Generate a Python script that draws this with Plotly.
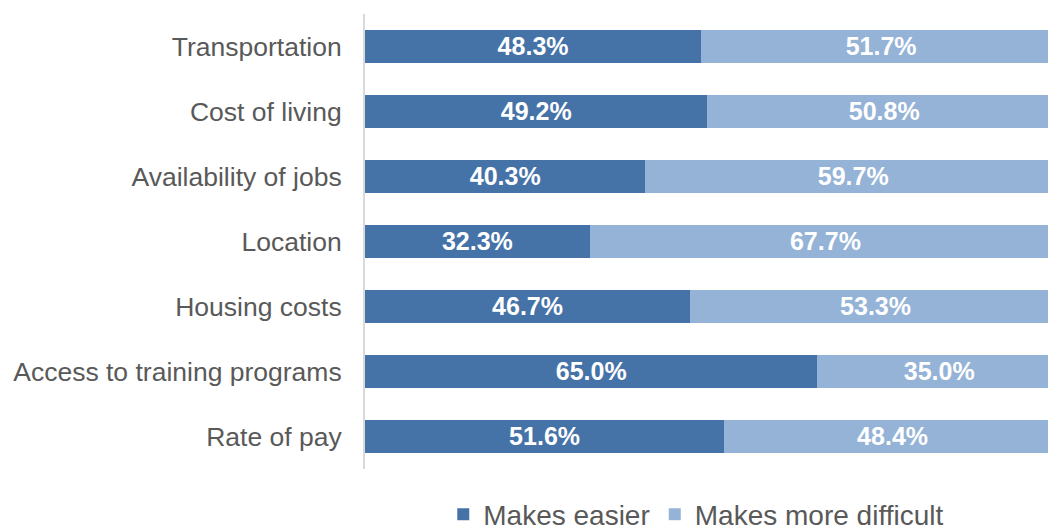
import plotly.graph_objects as go

categories = [
    "Transportation",
    "Cost of living",
    "Availability of jobs",
    "Location",
    "Housing costs",
    "Access to training programs",
    "Rate of pay",
]
makes_easier = [48.3, 49.2, 40.3, 32.3, 46.7, 65.0, 51.6]
makes_more_difficult = [51.7, 50.8, 59.7, 67.7, 53.3, 35.0, 48.4]

DARK = "#4673A7"
LIGHT = "#95B3D7"
FONT = "Liberation Sans, Arial, sans-serif"

fig = go.Figure()
for name, vals, color in [
    ("Makes easier", makes_easier, DARK),
    ("Makes more difficult", makes_more_difficult, LIGHT),
]:
    fig.add_trace(go.Bar(
        name=name,
        y=categories,
        x=vals,
        orientation="h",
        marker=dict(color=color, line=dict(width=0)),
        text=[f"{v:.1f}%" for v in vals],
        textposition="inside",
        insidetextanchor="middle",
        textangle=0,
        textfont=dict(family=FONT, size=27, color="white", weight="bold"),
        cliponaxis=True,
        hoverinfo="skip",
    ))

fig.update_layout(
    width=1048,
    height=528,
    barmode="stack",
    bargap=0.48,
    plot_bgcolor="white",
    paper_bgcolor="white",
    margin=dict(l=365, r=0, t=14, b=59, autoexpand=False),
    font=dict(family=FONT, color="#595959"),
    showlegend=True,
    legend=dict(
        orientation="h",
        x=0.485, xanchor="center",
        y=-0.1, yanchor="middle",
        font=dict(family=FONT, size=28, color="#595959"),
        itemclick=False,
        traceorder="normal",
        itemwidth=30,
    ),
    xaxis=dict(
        range=[0, 98.13],
        showgrid=False,
        zeroline=False,
        showticklabels=False,
        showline=False,
        fixedrange=True,
    ),
    yaxis=dict(
        categoryorder="array",
        categoryarray=categories[::-1],
        showline=True,
        linecolor="#D9D9D9",
        linewidth=2,
        showgrid=False,
        ticks="",
        ticklabelstandoff=16,
        tickfont=dict(family=FONT, size=26.5, color="#595959"),
        fixedrange=True,
    ),
)

fig.write_html("out.html")
